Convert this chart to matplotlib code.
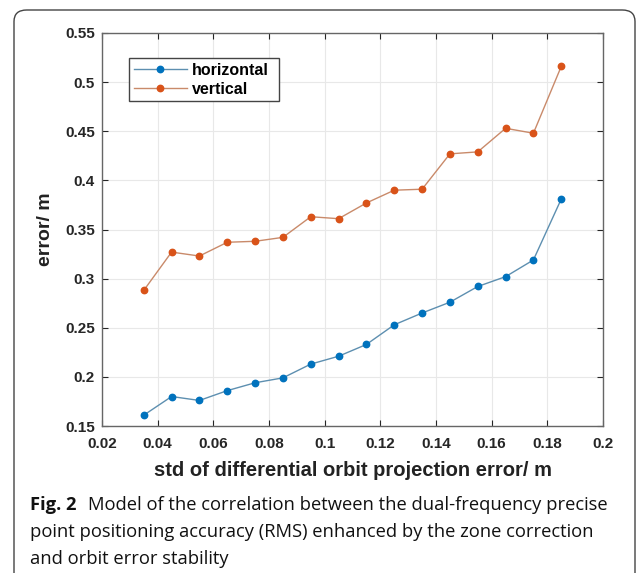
import matplotlib.pyplot as plt
from matplotlib.patches import FancyBboxPatch

# std of differential orbit projection error (m)
orbit_std = [0.035, 0.045, 0.055, 0.065, 0.075, 0.085, 0.095, 0.105,
             0.115, 0.125, 0.135, 0.145, 0.155, 0.165, 0.175, 0.185]
horizontal = [0.161, 0.180, 0.176, 0.186, 0.194, 0.199, 0.213, 0.221,
              0.233, 0.253, 0.265, 0.276, 0.292, 0.302, 0.319, 0.381]
vertical = [0.288, 0.327, 0.323, 0.337, 0.338, 0.342, 0.363, 0.361,
            0.377, 0.390, 0.391, 0.427, 0.429, 0.453, 0.448, 0.516]

x_ticks = [0.02, 0.04, 0.06, 0.08, 0.1, 0.12, 0.14, 0.16, 0.18, 0.2]
x_tick_labels = ["0.02", "0.04", "0.06", "0.08", "0.1", "0.12", "0.14", "0.16", "0.18", "0.2"]
y_ticks = [0.15, 0.2, 0.25, 0.3, 0.35, 0.4, 0.45, 0.5, 0.55]
y_tick_labels = ["0.15", "0.2", "0.25", "0.3", "0.35", "0.4", "0.45", "0.5", "0.55"]

plt.rcParams['font.family'] = ['Liberation Sans', 'DejaVu Sans']

W, H = 637, 573
fig = plt.figure(figsize=(W / 100, H / 100), dpi=100)
ax = fig.add_axes([102 / W, 1 - 426 / H, 501 / W, 393 / H])

# matlab-like colours: marker strong, line a bit washed out
ax.plot(orbit_std, horizontal, '-', color='#5d8fb0', lw=1.0,
        marker='o', ms=4.6, mfc='#0072BD', mec='#0072BD', label='horizontal')
ax.plot(orbit_std, vertical, '-', color='#c98a6a', lw=1.0,
        marker='o', ms=4.6, mfc='#D95319', mec='#D95319', label='vertical')

ax.set_xlim(0.02, 0.2)
ax.set_ylim(0.15, 0.55)
ax.set_xticks(x_ticks)
ax.set_xticklabels(x_tick_labels)
ax.set_yticks(y_ticks)
ax.set_yticklabels(y_tick_labels)
ax.grid(True, color='#e8e8e8', lw=0.8)
ax.set_axisbelow(True)
ax.tick_params(direction='in', top=True, right=True, length=4,
               labelsize=11, colors='#262626', pad=5)
ax.tick_params(axis='x', pad=8)
for lab in ax.get_xticklabels() + ax.get_yticklabels():
    lab.set_fontweight('bold')
for sp in ax.spines.values():
    sp.set_color('#666666')
    sp.set_linewidth(1.0)

ax.set_xlabel('std of differential orbit projection error/ m', fontsize=14.5,
              fontweight='bold', color='#222222', labelpad=7)
ax.set_ylabel('error/ m', fontsize=14, fontweight='bold', color='#222222', labelpad=8)

leg = ax.legend(loc='upper left', bbox_to_anchor=(0.038, 0.957, 0.331, 0.0),
                mode='expand', prop={'weight': 'bold', 'size': 11.5},
                fancybox=False, edgecolor='#444444', framealpha=1,
                borderpad=0.3, handlelength=3.3, labelspacing=0.25,
                handletextpad=0.35)
leg.get_frame().set_linewidth(1.0)

# rounded frame around figure + caption
frame = FancyBboxPatch((14 / W, -0.2), (635 - 14) / W, 1.2 - 10 / H,
                       boxstyle='round,pad=0,rounding_size=0.02',
                       transform=fig.transFigure, fill=False,
                       edgecolor='#444444', lw=1.0, clip_on=False)
fig.patches.append(frame)

cap_font = ['Open Sans', 'DejaVu Sans']
cap_size = 13.2
fig.text(30 / W, 1 - 505 / H, 'Fig. 2', fontsize=cap_size, fontweight='bold',
         family=cap_font, va='center', color='#111111')
fig.text(88 / W, 1 - 505 / H,
         'Model of the correlation between the dual-frequency precise',
         fontsize=cap_size, family=cap_font, va='center', color='#111111')
fig.text(30 / W, 1 - 532 / H,
         'point positioning accuracy (RMS) enhanced by the zone correction',
         fontsize=cap_size, family=cap_font, va='center', color='#111111')
fig.text(30 / W, 1 - 559 / H, 'and orbit error stability',
         fontsize=cap_size, family=cap_font, va='center', color='#111111')

fig.savefig('out.png', dpi=100)
